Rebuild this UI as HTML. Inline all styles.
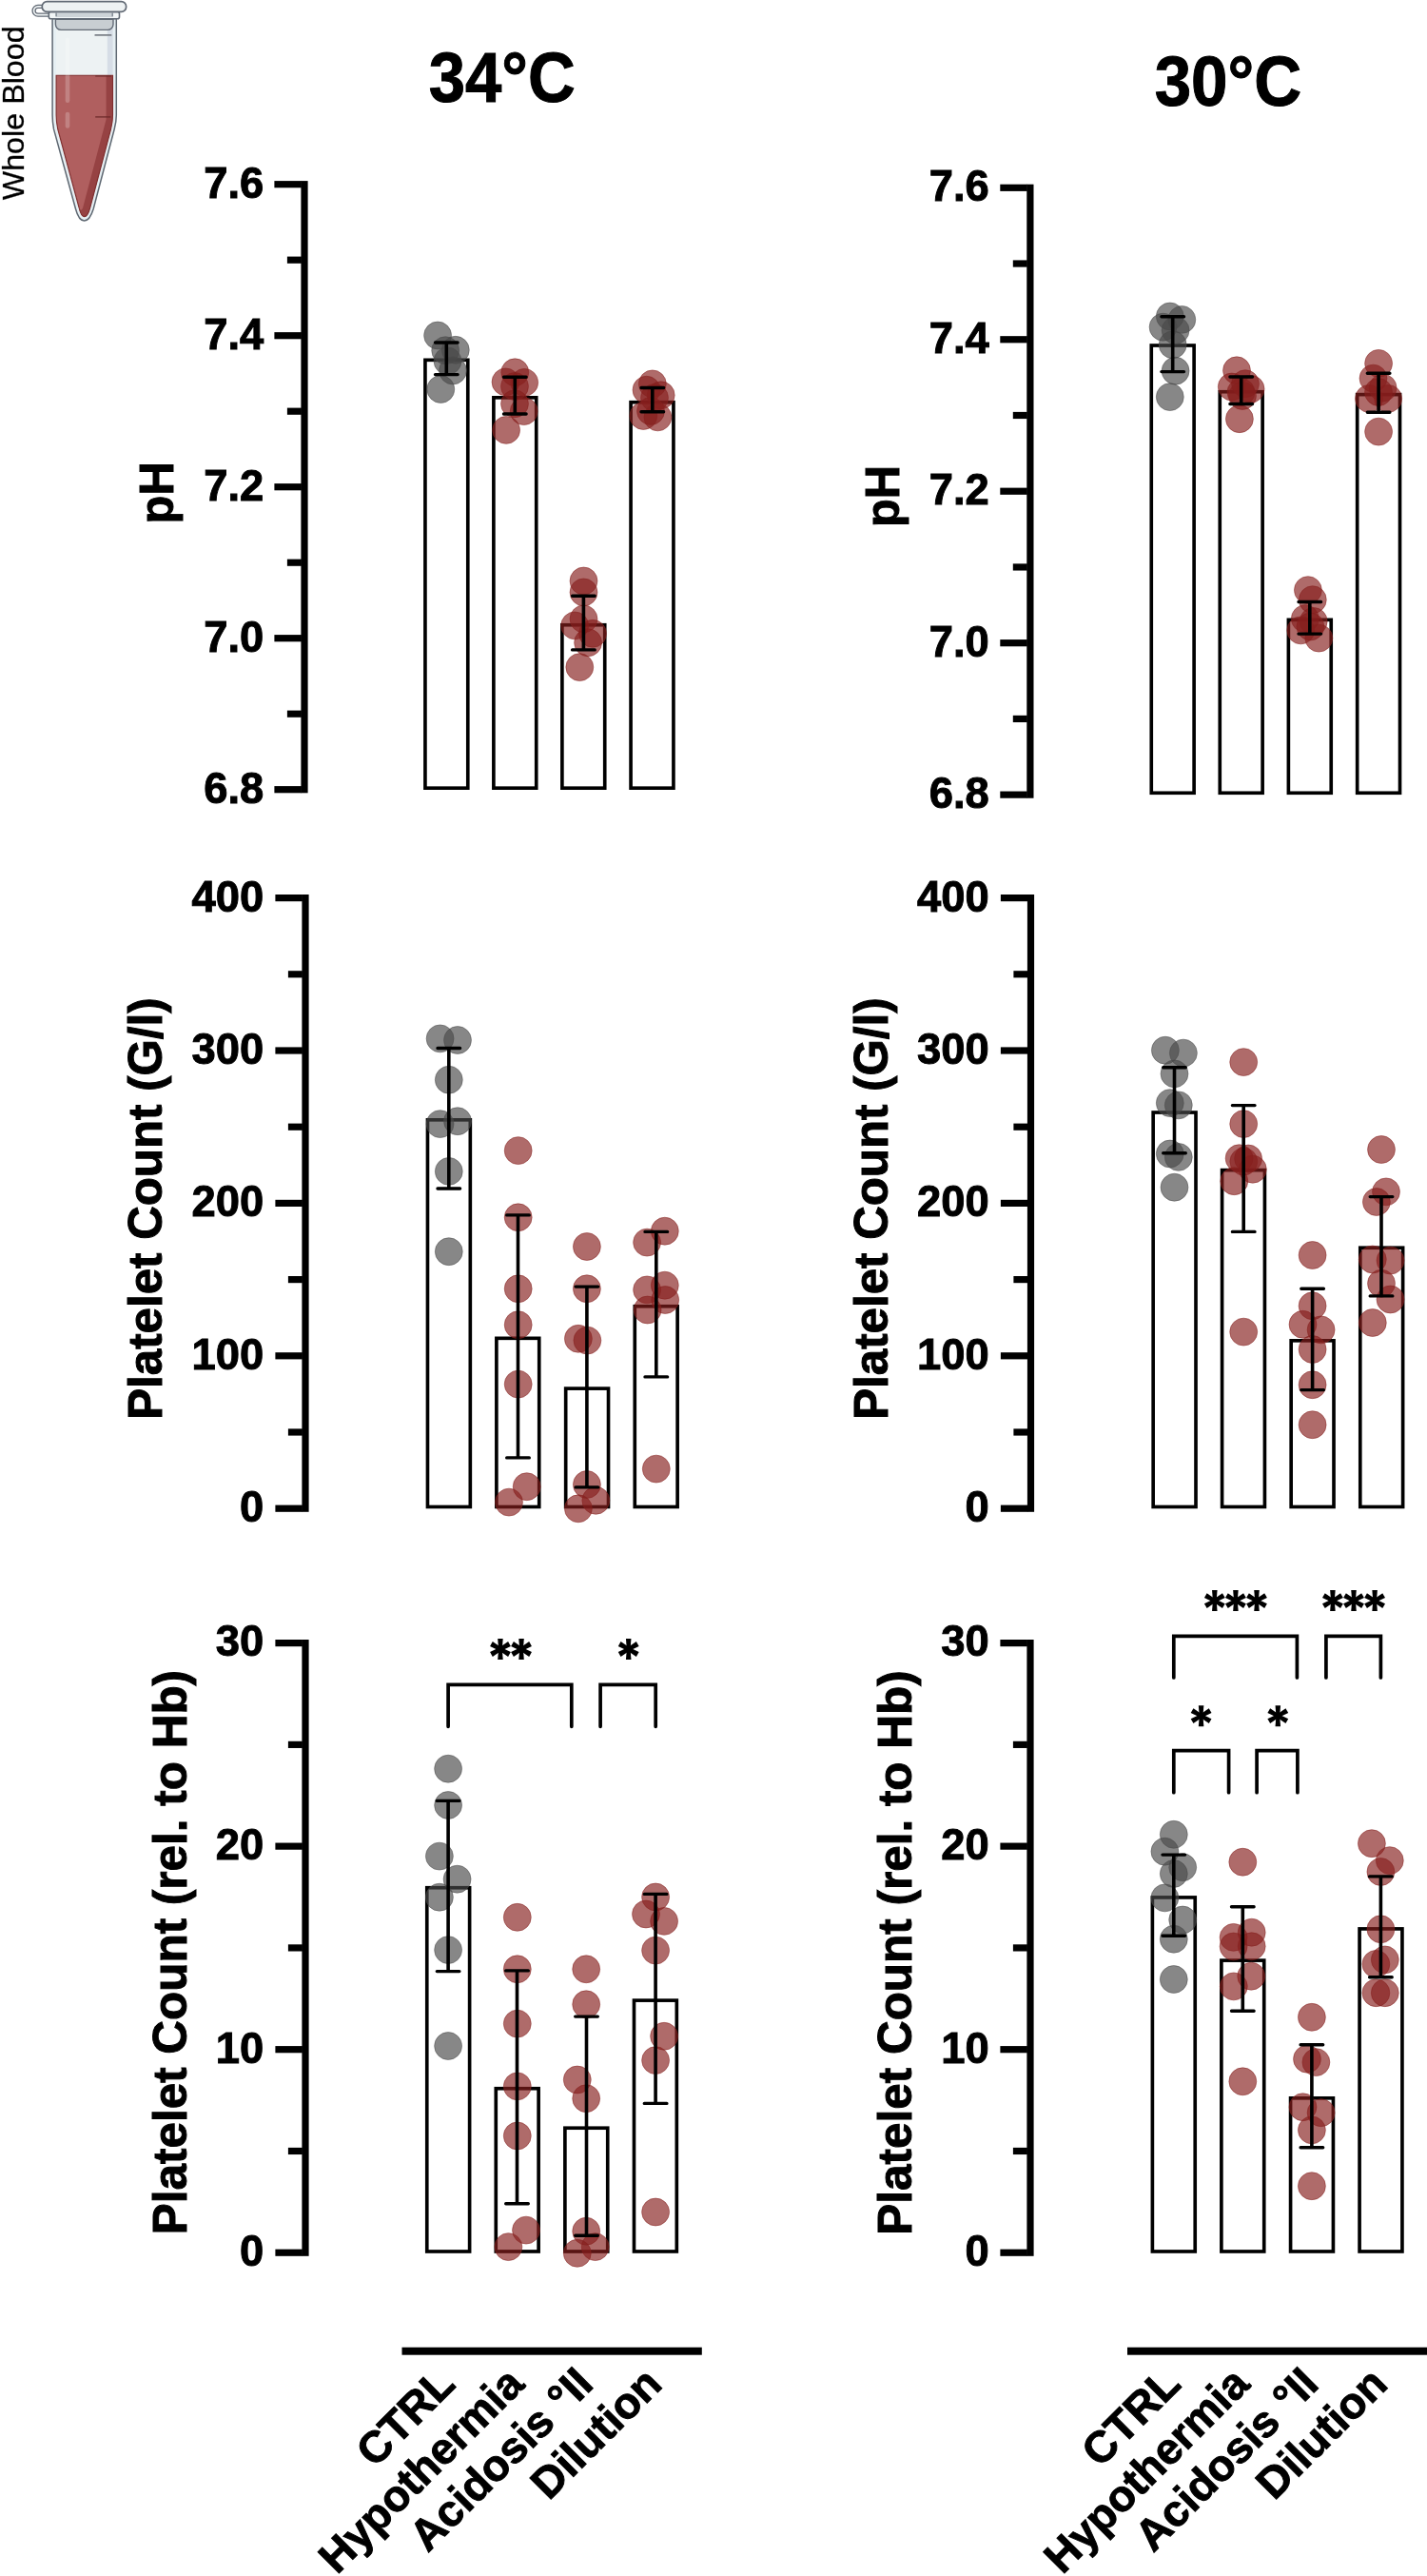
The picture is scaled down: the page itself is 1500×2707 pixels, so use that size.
<!DOCTYPE html>
<html><head><meta charset="utf-8"><title>Figure</title>
<style>html,body{margin:0;padding:0;background:#fff}svg{display:block}svg,text{font-family:"Liberation Sans",sans-serif}text{filter:grayscale(1)}</style></head>
<body>
<svg width="1500" height="2707" viewBox="0 0 1500 2707" fill="#000">
<rect width="1500" height="2707" fill="#fff"/>
<defs><g id="ast"><path transform="rotate(0)" d="M-1.9,0L-2.75,-11H2.75L1.9,0Z"/><path transform="rotate(60)" d="M-1.9,0L-2.75,-11H2.75L1.9,0Z"/><path transform="rotate(120)" d="M-1.9,0L-2.75,-11H2.75L1.9,0Z"/><path transform="rotate(180)" d="M-1.9,0L-2.75,-11H2.75L1.9,0Z"/><path transform="rotate(240)" d="M-1.9,0L-2.75,-11H2.75L1.9,0Z"/><path transform="rotate(300)" d="M-1.9,0L-2.75,-11H2.75L1.9,0Z"/><circle r="2.4"/></g></defs>
<g id="tube">
<text transform="translate(25.2,118.8) rotate(-90)" text-anchor="middle" font-size="32" font-weight="400" textLength="183" lengthAdjust="spacingAndGlyphs" fill="#000" stroke="#000" stroke-width="0.3">Whole Blood</text>
<!-- hinge -->
<path d="M52,6.9H39.9a4.35,4.35 0 0 0 0,8.7H52" fill="none" stroke="#626a75" stroke-width="4.3"/>
<path d="M52,6.9H39.9a4.35,4.35 0 0 0 0,8.7H52" fill="none" stroke="#f1f5f6" stroke-width="1.7"/>
<!-- body outer -->
<path d="M55.1,19.6V121C55.1,127 55.7,131.5 56.5,135.7L79.5,219.5C82,229 85.2,232 88.6,232C92,232 95.3,229 98.2,219.5L120.2,135.7C121.3,131.5 122.3,127 122.3,121V19.6Z" fill="#e6eff3" stroke="#5f6872" stroke-width="1.5"/>
<!-- inner air -->
<path d="M58.9,21V121C58.9,126.5 59.6,131 60.6,135.5L83,218C84.6,225 86.4,227.8 88.6,227.8C90.8,227.8 93,225 94.8,218L116.7,135.5C117.7,131 118.7,126.5 118.7,121V21Z" fill="#edf2f3"/>
<path d="M112.8,21H118.7V79H112.8Z" fill="#d6dde6"/>
<!-- liquid -->
<path d="M59.1,79.2H118.5V121C118.5,126.5 117.6,131 116.6,135.5L94.8,218C93,225 90.8,227.6 88.6,227.6C86.4,227.6 84.6,225 83,218L60.7,135.5C59.8,131 59.1,126.5 59.1,121Z" fill="#b05f5f"/>
<!-- liquid dark right side -->
<path d="M111.6,79.2H118.5V121C118.5,126.5 117.6,131 116.6,135.5L94.8,218C93,225 90.8,227.6 88.6,227.6C86.4,227.6 84.6,225 83.4,219.5C84.5,221.5 86.2,221.2 87.2,218L111.6,125.6Z" fill="#964243"/>
<path d="M59.1,79.2H118.5V121C118.5,126.5 117.6,131 116.6,135.5L94.8,218C93,225 90.8,227.6 88.6,227.6C86.4,227.6 84.6,225 83,218L60.7,135.5C59.8,131 59.1,126.5 59.1,121Z" fill="none" stroke="#7f2e2e" stroke-width="1.1"/>
<!-- highlights -->
<rect x="68.7" y="39.5" width="4.6" height="68.5" rx="2.3" fill="#fff" fill-opacity="0.22"/>
<rect x="68.7" y="117.8" width="4.6" height="17" rx="2.3" fill="#fff" fill-opacity="0.22"/>
<!-- graduation marks -->
<path d="M100.2,36.9H116.6" stroke="#7b8087" stroke-width="1.7" stroke-linecap="round"/>
<path d="M100.2,79.9H117" stroke="#6e2a2a" stroke-width="1.3"/>
<path d="M100.2,122.9H116.4" stroke="#6e2a2a" stroke-width="1.3"/>
<!-- plug -->
<path d="M58.4,20.4H119V25.6a5.8,5.8 0 0 1 -5.8,5.8H64.2a5.8,5.8 0 0 1 -5.8,-5.8Z" fill="#c8ced2" stroke="#626a75" stroke-width="1.4"/>
<!-- collar -->
<rect x="51.3" y="12.4" width="74.2" height="7.4" rx="2" fill="#f1f5f6" stroke="#626a75" stroke-width="1.6"/>
<rect x="58.6" y="13.4" width="60.2" height="4.6" fill="#cdd3d7"/>
<path d="M59.1,13.6V17.2M118.2,13.6V17.2" stroke="#7d8690" stroke-width="1.4"/>
<!-- lid -->
<rect x="44.3" y="1.6" width="88.3" height="10.8" rx="5" fill="#eef2f3" stroke="#626a75" stroke-width="1.7"/>
</g>

<text x="527.7" y="107.0" text-anchor="middle" font-size="73.3" font-weight="700" stroke="#000" stroke-width="1" textLength="154" lengthAdjust="spacingAndGlyphs">34°C</text>
<text x="1290.9" y="110.9" text-anchor="middle" font-size="73.3" font-weight="700" stroke="#000" stroke-width="1" textLength="154.5" lengthAdjust="spacingAndGlyphs">30°C</text>
<g>
<rect x="316.40" y="190.10" width="7.2" height="643.20" fill="#000"/>
<rect x="288.40" y="190.10" width="28.5" height="7.2" fill="#000"/>
<text transform="translate(277.2,207.5) scale(0.965,1)" text-anchor="end" font-size="47" font-weight="700" stroke="#000" stroke-width="1">7.6</text>
<rect x="288.40" y="349.10" width="28.5" height="7.2" fill="#000"/>
<text transform="translate(277.2,366.6) scale(0.965,1)" text-anchor="end" font-size="47" font-weight="700" stroke="#000" stroke-width="1">7.4</text>
<rect x="288.40" y="508.10" width="28.5" height="7.2" fill="#000"/>
<text transform="translate(277.2,525.5) scale(0.965,1)" text-anchor="end" font-size="47" font-weight="700" stroke="#000" stroke-width="1">7.2</text>
<rect x="288.40" y="667.10" width="28.5" height="7.2" fill="#000"/>
<text transform="translate(277.2,684.6) scale(0.965,1)" text-anchor="end" font-size="47" font-weight="700" stroke="#000" stroke-width="1">7.0</text>
<rect x="288.40" y="826.10" width="28.5" height="7.2" fill="#000"/>
<text transform="translate(277.2,843.6) scale(0.965,1)" text-anchor="end" font-size="47" font-weight="700" stroke="#000" stroke-width="1">6.8</text>
<rect x="301.90" y="269.60" width="15" height="7.2" fill="#000"/>
<rect x="301.90" y="428.60" width="15" height="7.2" fill="#000"/>
<rect x="301.90" y="587.60" width="15" height="7.2" fill="#000"/>
<rect x="301.90" y="746.60" width="15" height="7.2" fill="#000"/>
<text transform="translate(182.4,517.8) rotate(-90)" text-anchor="middle" font-size="50.8" font-weight="700" stroke="#000" stroke-width="1" textLength="65.2" lengthAdjust="spacingAndGlyphs">pH</text>
<rect x="446.93" y="378.32" width="44.85" height="449.85" fill="none" stroke="#000" stroke-width="3.65"/>
<rect x="518.88" y="417.82" width="44.85" height="410.35" fill="none" stroke="#000" stroke-width="3.65"/>
<rect x="590.88" y="656.73" width="44.85" height="171.45" fill="none" stroke="#000" stroke-width="3.65"/>
<rect x="663.08" y="422.72" width="44.85" height="405.45" fill="none" stroke="#000" stroke-width="3.65"/>
<circle cx="460.1" cy="352.5" r="14.45" fill="#494949" fill-opacity="0.66" stroke="#494949" stroke-opacity="0.5" stroke-width="1"/>
<circle cx="468.2" cy="368.2" r="14.45" fill="#494949" fill-opacity="0.66" stroke="#494949" stroke-opacity="0.5" stroke-width="1"/>
<circle cx="478.8" cy="367.8" r="14.45" fill="#494949" fill-opacity="0.66" stroke="#494949" stroke-opacity="0.5" stroke-width="1"/>
<circle cx="470.5" cy="379.4" r="14.45" fill="#494949" fill-opacity="0.66" stroke="#494949" stroke-opacity="0.5" stroke-width="1"/>
<circle cx="476.0" cy="389.5" r="14.45" fill="#494949" fill-opacity="0.66" stroke="#494949" stroke-opacity="0.5" stroke-width="1"/>
<circle cx="463.3" cy="409.0" r="14.45" fill="#494949" fill-opacity="0.66" stroke="#494949" stroke-opacity="0.5" stroke-width="1"/>
<circle cx="541.3" cy="391.3" r="14.45" fill="#861f1d" fill-opacity="0.66" stroke="#861f1d" stroke-opacity="0.5" stroke-width="1"/>
<circle cx="531.5" cy="401.4" r="14.45" fill="#861f1d" fill-opacity="0.66" stroke="#861f1d" stroke-opacity="0.5" stroke-width="1"/>
<circle cx="551.2" cy="401.9" r="14.45" fill="#861f1d" fill-opacity="0.66" stroke="#861f1d" stroke-opacity="0.5" stroke-width="1"/>
<circle cx="541.0" cy="406.0" r="14.45" fill="#861f1d" fill-opacity="0.66" stroke="#861f1d" stroke-opacity="0.5" stroke-width="1"/>
<circle cx="541.0" cy="424.3" r="14.45" fill="#861f1d" fill-opacity="0.66" stroke="#861f1d" stroke-opacity="0.5" stroke-width="1"/>
<circle cx="550.7" cy="432.1" r="14.45" fill="#861f1d" fill-opacity="0.66" stroke="#861f1d" stroke-opacity="0.5" stroke-width="1"/>
<circle cx="532.1" cy="451.9" r="14.45" fill="#861f1d" fill-opacity="0.66" stroke="#861f1d" stroke-opacity="0.5" stroke-width="1"/>
<circle cx="613.5" cy="610.5" r="14.45" fill="#861f1d" fill-opacity="0.66" stroke="#861f1d" stroke-opacity="0.5" stroke-width="1"/>
<circle cx="613.5" cy="622.4" r="14.45" fill="#861f1d" fill-opacity="0.66" stroke="#861f1d" stroke-opacity="0.5" stroke-width="1"/>
<circle cx="613.5" cy="650.4" r="14.45" fill="#861f1d" fill-opacity="0.66" stroke="#861f1d" stroke-opacity="0.5" stroke-width="1"/>
<circle cx="604.2" cy="657.4" r="14.45" fill="#861f1d" fill-opacity="0.66" stroke="#861f1d" stroke-opacity="0.5" stroke-width="1"/>
<circle cx="623.0" cy="665.8" r="14.45" fill="#861f1d" fill-opacity="0.66" stroke="#861f1d" stroke-opacity="0.5" stroke-width="1"/>
<circle cx="618.1" cy="675.3" r="14.45" fill="#861f1d" fill-opacity="0.66" stroke="#861f1d" stroke-opacity="0.5" stroke-width="1"/>
<circle cx="609.3" cy="701.1" r="14.45" fill="#861f1d" fill-opacity="0.66" stroke="#861f1d" stroke-opacity="0.5" stroke-width="1"/>
<circle cx="685.8" cy="403.4" r="14.45" fill="#861f1d" fill-opacity="0.66" stroke="#861f1d" stroke-opacity="0.5" stroke-width="1"/>
<circle cx="679.5" cy="409.7" r="14.45" fill="#861f1d" fill-opacity="0.66" stroke="#861f1d" stroke-opacity="0.5" stroke-width="1"/>
<circle cx="694.7" cy="415.3" r="14.45" fill="#861f1d" fill-opacity="0.66" stroke="#861f1d" stroke-opacity="0.5" stroke-width="1"/>
<circle cx="688.0" cy="418.0" r="14.45" fill="#861f1d" fill-opacity="0.66" stroke="#861f1d" stroke-opacity="0.5" stroke-width="1"/>
<circle cx="676.3" cy="437.0" r="14.45" fill="#861f1d" fill-opacity="0.66" stroke="#861f1d" stroke-opacity="0.5" stroke-width="1"/>
<circle cx="691.4" cy="438.4" r="14.45" fill="#861f1d" fill-opacity="0.66" stroke="#861f1d" stroke-opacity="0.5" stroke-width="1"/>
<circle cx="684.0" cy="432.0" r="14.45" fill="#861f1d" fill-opacity="0.66" stroke="#861f1d" stroke-opacity="0.5" stroke-width="1"/>
<path d="M469.3,360.0V393.6" stroke="#000" stroke-width="3.6" fill="none"/>
<path d="M457.5,360.0H481.1M457.5,393.6H481.1" stroke="#000" stroke-width="3.4" stroke-linecap="round" fill="none"/>
<path d="M541.3,396.3V435.0" stroke="#000" stroke-width="3.6" fill="none"/>
<path d="M529.5,396.3H553.1M529.5,435.0H553.1" stroke="#000" stroke-width="3.4" stroke-linecap="round" fill="none"/>
<path d="M613.4,626.3V682.9" stroke="#000" stroke-width="3.6" fill="none"/>
<path d="M601.6,626.3H625.2M601.6,682.9H625.2" stroke="#000" stroke-width="3.4" stroke-linecap="round" fill="none"/>
<path d="M685.8,407.5V432.8" stroke="#000" stroke-width="3.6" fill="none"/>
<path d="M674.0,407.5H697.6M674.0,432.8H697.6" stroke="#000" stroke-width="3.4" stroke-linecap="round" fill="none"/>
</g>
<g>
<rect x="1079.30" y="193.70" width="7.2" height="645.04" fill="#000"/>
<rect x="1051.30" y="193.70" width="28.5" height="7.2" fill="#000"/>
<text transform="translate(1039.7,211.2) scale(0.965,1)" text-anchor="end" font-size="47" font-weight="700" stroke="#000" stroke-width="1">7.6</text>
<rect x="1051.30" y="353.16" width="28.5" height="7.2" fill="#000"/>
<text transform="translate(1039.7,370.6) scale(0.965,1)" text-anchor="end" font-size="47" font-weight="700" stroke="#000" stroke-width="1">7.4</text>
<rect x="1051.30" y="512.62" width="28.5" height="7.2" fill="#000"/>
<text transform="translate(1039.7,530.1) scale(0.965,1)" text-anchor="end" font-size="47" font-weight="700" stroke="#000" stroke-width="1">7.2</text>
<rect x="1051.30" y="672.08" width="28.5" height="7.2" fill="#000"/>
<text transform="translate(1039.7,689.5) scale(0.965,1)" text-anchor="end" font-size="47" font-weight="700" stroke="#000" stroke-width="1">7.0</text>
<rect x="1051.30" y="831.54" width="28.5" height="7.2" fill="#000"/>
<text transform="translate(1039.7,849.0) scale(0.965,1)" text-anchor="end" font-size="47" font-weight="700" stroke="#000" stroke-width="1">6.8</text>
<rect x="1064.80" y="273.43" width="15" height="7.2" fill="#000"/>
<rect x="1064.80" y="432.89" width="15" height="7.2" fill="#000"/>
<rect x="1064.80" y="592.35" width="15" height="7.2" fill="#000"/>
<rect x="1064.80" y="751.81" width="15" height="7.2" fill="#000"/>
<text transform="translate(945.0,521.5) rotate(-90)" text-anchor="middle" font-size="50.8" font-weight="700" stroke="#000" stroke-width="1" textLength="65.2" lengthAdjust="spacingAndGlyphs">pH</text>
<rect x="1210.28" y="363.02" width="44.85" height="470.25" fill="none" stroke="#000" stroke-width="3.65"/>
<rect x="1282.28" y="411.72" width="44.85" height="421.55" fill="none" stroke="#000" stroke-width="3.65"/>
<rect x="1354.38" y="651.33" width="44.85" height="181.95" fill="none" stroke="#000" stroke-width="3.65"/>
<rect x="1426.67" y="414.62" width="44.85" height="418.65" fill="none" stroke="#000" stroke-width="3.65"/>
<circle cx="1229.8" cy="332.5" r="14.45" fill="#494949" fill-opacity="0.66" stroke="#494949" stroke-opacity="0.5" stroke-width="1"/>
<circle cx="1242.3" cy="335.9" r="14.45" fill="#494949" fill-opacity="0.66" stroke="#494949" stroke-opacity="0.5" stroke-width="1"/>
<circle cx="1222.6" cy="343.7" r="14.45" fill="#494949" fill-opacity="0.66" stroke="#494949" stroke-opacity="0.5" stroke-width="1"/>
<circle cx="1235.6" cy="347.1" r="14.45" fill="#494949" fill-opacity="0.66" stroke="#494949" stroke-opacity="0.5" stroke-width="1"/>
<circle cx="1232.7" cy="362.3" r="14.45" fill="#494949" fill-opacity="0.66" stroke="#494949" stroke-opacity="0.5" stroke-width="1"/>
<circle cx="1235.6" cy="389.7" r="14.45" fill="#494949" fill-opacity="0.66" stroke="#494949" stroke-opacity="0.5" stroke-width="1"/>
<circle cx="1229.8" cy="417.1" r="14.45" fill="#494949" fill-opacity="0.66" stroke="#494949" stroke-opacity="0.5" stroke-width="1"/>
<circle cx="1300.0" cy="389.3" r="14.45" fill="#861f1d" fill-opacity="0.66" stroke="#861f1d" stroke-opacity="0.5" stroke-width="1"/>
<circle cx="1294.8" cy="406.5" r="14.45" fill="#861f1d" fill-opacity="0.66" stroke="#861f1d" stroke-opacity="0.5" stroke-width="1"/>
<circle cx="1309.0" cy="403.2" r="14.45" fill="#861f1d" fill-opacity="0.66" stroke="#861f1d" stroke-opacity="0.5" stroke-width="1"/>
<circle cx="1314.6" cy="408.8" r="14.45" fill="#861f1d" fill-opacity="0.66" stroke="#861f1d" stroke-opacity="0.5" stroke-width="1"/>
<circle cx="1304.5" cy="412.1" r="14.45" fill="#861f1d" fill-opacity="0.66" stroke="#861f1d" stroke-opacity="0.5" stroke-width="1"/>
<circle cx="1306.0" cy="416.0" r="14.45" fill="#861f1d" fill-opacity="0.66" stroke="#861f1d" stroke-opacity="0.5" stroke-width="1"/>
<circle cx="1302.9" cy="440.2" r="14.45" fill="#861f1d" fill-opacity="0.66" stroke="#861f1d" stroke-opacity="0.5" stroke-width="1"/>
<circle cx="1374.9" cy="620.1" r="14.45" fill="#861f1d" fill-opacity="0.66" stroke="#861f1d" stroke-opacity="0.5" stroke-width="1"/>
<circle cx="1379.8" cy="630.2" r="14.45" fill="#861f1d" fill-opacity="0.66" stroke="#861f1d" stroke-opacity="0.5" stroke-width="1"/>
<circle cx="1371.8" cy="650.1" r="14.45" fill="#861f1d" fill-opacity="0.66" stroke="#861f1d" stroke-opacity="0.5" stroke-width="1"/>
<circle cx="1380.7" cy="652.9" r="14.45" fill="#861f1d" fill-opacity="0.66" stroke="#861f1d" stroke-opacity="0.5" stroke-width="1"/>
<circle cx="1377.4" cy="658.5" r="14.45" fill="#861f1d" fill-opacity="0.66" stroke="#861f1d" stroke-opacity="0.5" stroke-width="1"/>
<circle cx="1367.3" cy="662.4" r="14.45" fill="#861f1d" fill-opacity="0.66" stroke="#861f1d" stroke-opacity="0.5" stroke-width="1"/>
<circle cx="1386.3" cy="670.6" r="14.45" fill="#861f1d" fill-opacity="0.66" stroke="#861f1d" stroke-opacity="0.5" stroke-width="1"/>
<circle cx="1449.1" cy="381.9" r="14.45" fill="#861f1d" fill-opacity="0.66" stroke="#861f1d" stroke-opacity="0.5" stroke-width="1"/>
<circle cx="1443.5" cy="397.6" r="14.45" fill="#861f1d" fill-opacity="0.66" stroke="#861f1d" stroke-opacity="0.5" stroke-width="1"/>
<circle cx="1453.6" cy="407.6" r="14.45" fill="#861f1d" fill-opacity="0.66" stroke="#861f1d" stroke-opacity="0.5" stroke-width="1"/>
<circle cx="1439.0" cy="418.9" r="14.45" fill="#861f1d" fill-opacity="0.66" stroke="#861f1d" stroke-opacity="0.5" stroke-width="1"/>
<circle cx="1459.2" cy="418.9" r="14.45" fill="#861f1d" fill-opacity="0.66" stroke="#861f1d" stroke-opacity="0.5" stroke-width="1"/>
<circle cx="1449.0" cy="412.0" r="14.45" fill="#861f1d" fill-opacity="0.66" stroke="#861f1d" stroke-opacity="0.5" stroke-width="1"/>
<circle cx="1449.1" cy="453.6" r="14.45" fill="#861f1d" fill-opacity="0.66" stroke="#861f1d" stroke-opacity="0.5" stroke-width="1"/>
<path d="M1232.7,332.7V390.6" stroke="#000" stroke-width="3.6" fill="none"/>
<path d="M1220.9,332.7H1244.5M1220.9,390.6H1244.5" stroke="#000" stroke-width="3.4" stroke-linecap="round" fill="none"/>
<path d="M1304.7,396.0V424.5" stroke="#000" stroke-width="3.6" fill="none"/>
<path d="M1292.9,396.0H1316.5M1292.9,424.5H1316.5" stroke="#000" stroke-width="3.4" stroke-linecap="round" fill="none"/>
<path d="M1376.8,632.5V666.1" stroke="#000" stroke-width="3.6" fill="none"/>
<path d="M1365.0,632.5H1388.6M1365.0,666.1H1388.6" stroke="#000" stroke-width="3.4" stroke-linecap="round" fill="none"/>
<path d="M1449.1,392.2V433.2" stroke="#000" stroke-width="3.6" fill="none"/>
<path d="M1437.3,392.2H1460.9M1437.3,433.2H1460.9" stroke="#000" stroke-width="3.4" stroke-linecap="round" fill="none"/>
</g>
<g>
<rect x="317.40" y="940.00" width="7.2" height="648.80" fill="#000"/>
<rect x="289.40" y="940.00" width="28.5" height="7.2" fill="#000"/>
<text transform="translate(277.2,957.5) scale(0.965,1)" text-anchor="end" font-size="47" font-weight="700" stroke="#000" stroke-width="1">400</text>
<rect x="289.40" y="1100.40" width="28.5" height="7.2" fill="#000"/>
<text transform="translate(277.2,1117.8) scale(0.965,1)" text-anchor="end" font-size="47" font-weight="700" stroke="#000" stroke-width="1">300</text>
<rect x="289.40" y="1260.80" width="28.5" height="7.2" fill="#000"/>
<text transform="translate(277.2,1278.2) scale(0.965,1)" text-anchor="end" font-size="47" font-weight="700" stroke="#000" stroke-width="1">200</text>
<rect x="289.40" y="1421.20" width="28.5" height="7.2" fill="#000"/>
<text transform="translate(277.2,1438.7) scale(0.965,1)" text-anchor="end" font-size="47" font-weight="700" stroke="#000" stroke-width="1">100</text>
<rect x="289.40" y="1581.60" width="28.5" height="7.2" fill="#000"/>
<text transform="translate(277.2,1599.0) scale(0.965,1)" text-anchor="end" font-size="47" font-weight="700" stroke="#000" stroke-width="1">0</text>
<rect x="302.90" y="1020.20" width="15" height="7.2" fill="#000"/>
<rect x="302.90" y="1180.60" width="15" height="7.2" fill="#000"/>
<rect x="302.90" y="1341.00" width="15" height="7.2" fill="#000"/>
<rect x="302.90" y="1501.40" width="15" height="7.2" fill="#000"/>
<text transform="translate(170.4,1270.1) rotate(-90)" text-anchor="middle" font-size="50.8" font-weight="700" stroke="#000" stroke-width="1" textLength="443.3" lengthAdjust="spacingAndGlyphs">Platelet Count (G/l)</text>
<rect x="449.47" y="1176.83" width="44.85" height="406.65" fill="none" stroke="#000" stroke-width="3.65"/>
<rect x="521.88" y="1406.33" width="44.85" height="177.15" fill="none" stroke="#000" stroke-width="3.65"/>
<rect x="594.68" y="1459.12" width="44.85" height="124.35" fill="none" stroke="#000" stroke-width="3.65"/>
<rect x="667.28" y="1372.73" width="44.85" height="210.75" fill="none" stroke="#000" stroke-width="3.65"/>
<circle cx="462.6" cy="1091.4" r="14.45" fill="#494949" fill-opacity="0.66" stroke="#494949" stroke-opacity="0.5" stroke-width="1"/>
<circle cx="481.0" cy="1093.0" r="14.45" fill="#494949" fill-opacity="0.66" stroke="#494949" stroke-opacity="0.5" stroke-width="1"/>
<circle cx="471.8" cy="1134.7" r="14.45" fill="#494949" fill-opacity="0.66" stroke="#494949" stroke-opacity="0.5" stroke-width="1"/>
<circle cx="462.6" cy="1181.1" r="14.45" fill="#494949" fill-opacity="0.66" stroke="#494949" stroke-opacity="0.5" stroke-width="1"/>
<circle cx="481.0" cy="1178.2" r="14.45" fill="#494949" fill-opacity="0.66" stroke="#494949" stroke-opacity="0.5" stroke-width="1"/>
<circle cx="471.8" cy="1230.9" r="14.45" fill="#494949" fill-opacity="0.66" stroke="#494949" stroke-opacity="0.5" stroke-width="1"/>
<circle cx="471.8" cy="1315.2" r="14.45" fill="#494949" fill-opacity="0.66" stroke="#494949" stroke-opacity="0.5" stroke-width="1"/>
<circle cx="544.7" cy="1209.1" r="14.45" fill="#861f1d" fill-opacity="0.66" stroke="#861f1d" stroke-opacity="0.5" stroke-width="1"/>
<circle cx="544.7" cy="1279.3" r="14.45" fill="#861f1d" fill-opacity="0.66" stroke="#861f1d" stroke-opacity="0.5" stroke-width="1"/>
<circle cx="544.7" cy="1354.3" r="14.45" fill="#861f1d" fill-opacity="0.66" stroke="#861f1d" stroke-opacity="0.5" stroke-width="1"/>
<circle cx="544.7" cy="1392.2" r="14.45" fill="#861f1d" fill-opacity="0.66" stroke="#861f1d" stroke-opacity="0.5" stroke-width="1"/>
<circle cx="544.7" cy="1454.6" r="14.45" fill="#861f1d" fill-opacity="0.66" stroke="#861f1d" stroke-opacity="0.5" stroke-width="1"/>
<circle cx="553.7" cy="1562.2" r="14.45" fill="#861f1d" fill-opacity="0.66" stroke="#861f1d" stroke-opacity="0.5" stroke-width="1"/>
<circle cx="535.0" cy="1578.6" r="14.45" fill="#861f1d" fill-opacity="0.66" stroke="#861f1d" stroke-opacity="0.5" stroke-width="1"/>
<circle cx="616.9" cy="1310.0" r="14.45" fill="#861f1d" fill-opacity="0.66" stroke="#861f1d" stroke-opacity="0.5" stroke-width="1"/>
<circle cx="616.9" cy="1354.3" r="14.45" fill="#861f1d" fill-opacity="0.66" stroke="#861f1d" stroke-opacity="0.5" stroke-width="1"/>
<circle cx="607.9" cy="1406.8" r="14.45" fill="#861f1d" fill-opacity="0.66" stroke="#861f1d" stroke-opacity="0.5" stroke-width="1"/>
<circle cx="617.4" cy="1408.6" r="14.45" fill="#861f1d" fill-opacity="0.66" stroke="#861f1d" stroke-opacity="0.5" stroke-width="1"/>
<circle cx="616.9" cy="1560.0" r="14.45" fill="#861f1d" fill-opacity="0.66" stroke="#861f1d" stroke-opacity="0.5" stroke-width="1"/>
<circle cx="626.3" cy="1576.8" r="14.45" fill="#861f1d" fill-opacity="0.66" stroke="#861f1d" stroke-opacity="0.5" stroke-width="1"/>
<circle cx="607.9" cy="1585.3" r="14.45" fill="#861f1d" fill-opacity="0.66" stroke="#861f1d" stroke-opacity="0.5" stroke-width="1"/>
<circle cx="698.8" cy="1293.7" r="14.45" fill="#861f1d" fill-opacity="0.66" stroke="#861f1d" stroke-opacity="0.5" stroke-width="1"/>
<circle cx="680.1" cy="1305.6" r="14.45" fill="#861f1d" fill-opacity="0.66" stroke="#861f1d" stroke-opacity="0.5" stroke-width="1"/>
<circle cx="698.8" cy="1350.7" r="14.45" fill="#861f1d" fill-opacity="0.66" stroke="#861f1d" stroke-opacity="0.5" stroke-width="1"/>
<circle cx="680.1" cy="1355.4" r="14.45" fill="#861f1d" fill-opacity="0.66" stroke="#861f1d" stroke-opacity="0.5" stroke-width="1"/>
<circle cx="699.2" cy="1366.0" r="14.45" fill="#861f1d" fill-opacity="0.66" stroke="#861f1d" stroke-opacity="0.5" stroke-width="1"/>
<circle cx="680.6" cy="1376.5" r="14.45" fill="#861f1d" fill-opacity="0.66" stroke="#861f1d" stroke-opacity="0.5" stroke-width="1"/>
<circle cx="689.8" cy="1543.6" r="14.45" fill="#861f1d" fill-opacity="0.66" stroke="#861f1d" stroke-opacity="0.5" stroke-width="1"/>
<path d="M471.8,1101.5V1249.0" stroke="#000" stroke-width="3.6" fill="none"/>
<path d="M460.0,1101.5H483.6M460.0,1249.0H483.6" stroke="#000" stroke-width="3.4" stroke-linecap="round" fill="none"/>
<path d="M544.5,1276.9V1531.9" stroke="#000" stroke-width="3.6" fill="none"/>
<path d="M532.7,1276.9H556.3M532.7,1531.9H556.3" stroke="#000" stroke-width="3.4" stroke-linecap="round" fill="none"/>
<path d="M616.9,1352.1V1562.9" stroke="#000" stroke-width="3.6" fill="none"/>
<path d="M605.1,1352.1H628.7M605.1,1562.9H628.7" stroke="#000" stroke-width="3.4" stroke-linecap="round" fill="none"/>
<path d="M689.8,1294.4V1446.9" stroke="#000" stroke-width="3.6" fill="none"/>
<path d="M678.0,1294.4H701.6M678.0,1446.9H701.6" stroke="#000" stroke-width="3.4" stroke-linecap="round" fill="none"/>
</g>
<g>
<rect x="1079.90" y="940.00" width="7.2" height="648.80" fill="#000"/>
<rect x="1051.90" y="940.00" width="28.5" height="7.2" fill="#000"/>
<text transform="translate(1039.7,957.5) scale(0.965,1)" text-anchor="end" font-size="47" font-weight="700" stroke="#000" stroke-width="1">400</text>
<rect x="1051.90" y="1100.40" width="28.5" height="7.2" fill="#000"/>
<text transform="translate(1039.7,1117.8) scale(0.965,1)" text-anchor="end" font-size="47" font-weight="700" stroke="#000" stroke-width="1">300</text>
<rect x="1051.90" y="1260.80" width="28.5" height="7.2" fill="#000"/>
<text transform="translate(1039.7,1278.2) scale(0.965,1)" text-anchor="end" font-size="47" font-weight="700" stroke="#000" stroke-width="1">200</text>
<rect x="1051.90" y="1421.20" width="28.5" height="7.2" fill="#000"/>
<text transform="translate(1039.7,1438.7) scale(0.965,1)" text-anchor="end" font-size="47" font-weight="700" stroke="#000" stroke-width="1">100</text>
<rect x="1051.90" y="1581.60" width="28.5" height="7.2" fill="#000"/>
<text transform="translate(1039.7,1599.0) scale(0.965,1)" text-anchor="end" font-size="47" font-weight="700" stroke="#000" stroke-width="1">0</text>
<rect x="1065.40" y="1020.20" width="15" height="7.2" fill="#000"/>
<rect x="1065.40" y="1180.60" width="15" height="7.2" fill="#000"/>
<rect x="1065.40" y="1341.00" width="15" height="7.2" fill="#000"/>
<rect x="1065.40" y="1501.40" width="15" height="7.2" fill="#000"/>
<text transform="translate(933.2,1270.1) rotate(-90)" text-anchor="middle" font-size="50.8" font-weight="700" stroke="#000" stroke-width="1" textLength="443.3" lengthAdjust="spacingAndGlyphs">Platelet Count (G/l)</text>
<rect x="1212.17" y="1169.03" width="44.85" height="414.45" fill="none" stroke="#000" stroke-width="3.65"/>
<rect x="1284.58" y="1229.62" width="44.85" height="353.85" fill="none" stroke="#000" stroke-width="3.65"/>
<rect x="1357.17" y="1408.83" width="44.85" height="174.65" fill="none" stroke="#000" stroke-width="3.65"/>
<rect x="1429.78" y="1311.23" width="44.85" height="272.25" fill="none" stroke="#000" stroke-width="3.65"/>
<circle cx="1224.9" cy="1103.7" r="14.45" fill="#494949" fill-opacity="0.66" stroke="#494949" stroke-opacity="0.5" stroke-width="1"/>
<circle cx="1243.9" cy="1106.6" r="14.45" fill="#494949" fill-opacity="0.66" stroke="#494949" stroke-opacity="0.5" stroke-width="1"/>
<circle cx="1234.5" cy="1128.4" r="14.45" fill="#494949" fill-opacity="0.66" stroke="#494949" stroke-opacity="0.5" stroke-width="1"/>
<circle cx="1229.8" cy="1159.1" r="14.45" fill="#494949" fill-opacity="0.66" stroke="#494949" stroke-opacity="0.5" stroke-width="1"/>
<circle cx="1238.8" cy="1161.4" r="14.45" fill="#494949" fill-opacity="0.66" stroke="#494949" stroke-opacity="0.5" stroke-width="1"/>
<circle cx="1229.8" cy="1212.5" r="14.45" fill="#494949" fill-opacity="0.66" stroke="#494949" stroke-opacity="0.5" stroke-width="1"/>
<circle cx="1238.8" cy="1215.9" r="14.45" fill="#494949" fill-opacity="0.66" stroke="#494949" stroke-opacity="0.5" stroke-width="1"/>
<circle cx="1234.5" cy="1247.7" r="14.45" fill="#494949" fill-opacity="0.66" stroke="#494949" stroke-opacity="0.5" stroke-width="1"/>
<circle cx="1307.2" cy="1116.1" r="14.45" fill="#861f1d" fill-opacity="0.66" stroke="#861f1d" stroke-opacity="0.5" stroke-width="1"/>
<circle cx="1307.2" cy="1181.1" r="14.45" fill="#861f1d" fill-opacity="0.66" stroke="#861f1d" stroke-opacity="0.5" stroke-width="1"/>
<circle cx="1302.6" cy="1217.2" r="14.45" fill="#861f1d" fill-opacity="0.66" stroke="#861f1d" stroke-opacity="0.5" stroke-width="1"/>
<circle cx="1312.1" cy="1217.5" r="14.45" fill="#861f1d" fill-opacity="0.66" stroke="#861f1d" stroke-opacity="0.5" stroke-width="1"/>
<circle cx="1307.3" cy="1220.6" r="14.45" fill="#861f1d" fill-opacity="0.66" stroke="#861f1d" stroke-opacity="0.5" stroke-width="1"/>
<circle cx="1316.8" cy="1228.7" r="14.45" fill="#861f1d" fill-opacity="0.66" stroke="#861f1d" stroke-opacity="0.5" stroke-width="1"/>
<circle cx="1297.3" cy="1241.2" r="14.45" fill="#861f1d" fill-opacity="0.66" stroke="#861f1d" stroke-opacity="0.5" stroke-width="1"/>
<circle cx="1307.2" cy="1399.6" r="14.45" fill="#861f1d" fill-opacity="0.66" stroke="#861f1d" stroke-opacity="0.5" stroke-width="1"/>
<circle cx="1379.6" cy="1319.0" r="14.45" fill="#861f1d" fill-opacity="0.66" stroke="#861f1d" stroke-opacity="0.5" stroke-width="1"/>
<circle cx="1379.6" cy="1372.3" r="14.45" fill="#861f1d" fill-opacity="0.66" stroke="#861f1d" stroke-opacity="0.5" stroke-width="1"/>
<circle cx="1369.5" cy="1391.8" r="14.45" fill="#861f1d" fill-opacity="0.66" stroke="#861f1d" stroke-opacity="0.5" stroke-width="1"/>
<circle cx="1388.6" cy="1397.4" r="14.45" fill="#861f1d" fill-opacity="0.66" stroke="#861f1d" stroke-opacity="0.5" stroke-width="1"/>
<circle cx="1379.6" cy="1418.0" r="14.45" fill="#861f1d" fill-opacity="0.66" stroke="#861f1d" stroke-opacity="0.5" stroke-width="1"/>
<circle cx="1379.6" cy="1455.2" r="14.45" fill="#861f1d" fill-opacity="0.66" stroke="#861f1d" stroke-opacity="0.5" stroke-width="1"/>
<circle cx="1379.6" cy="1497.2" r="14.45" fill="#861f1d" fill-opacity="0.66" stroke="#861f1d" stroke-opacity="0.5" stroke-width="1"/>
<circle cx="1452.0" cy="1208.0" r="14.45" fill="#861f1d" fill-opacity="0.66" stroke="#861f1d" stroke-opacity="0.5" stroke-width="1"/>
<circle cx="1457.0" cy="1252.4" r="14.45" fill="#861f1d" fill-opacity="0.66" stroke="#861f1d" stroke-opacity="0.5" stroke-width="1"/>
<circle cx="1446.9" cy="1263.0" r="14.45" fill="#861f1d" fill-opacity="0.66" stroke="#861f1d" stroke-opacity="0.5" stroke-width="1"/>
<circle cx="1442.8" cy="1323.5" r="14.45" fill="#861f1d" fill-opacity="0.66" stroke="#861f1d" stroke-opacity="0.5" stroke-width="1"/>
<circle cx="1461.5" cy="1324.6" r="14.45" fill="#861f1d" fill-opacity="0.66" stroke="#861f1d" stroke-opacity="0.5" stroke-width="1"/>
<circle cx="1452.0" cy="1348.7" r="14.45" fill="#861f1d" fill-opacity="0.66" stroke="#861f1d" stroke-opacity="0.5" stroke-width="1"/>
<circle cx="1461.5" cy="1365.5" r="14.45" fill="#861f1d" fill-opacity="0.66" stroke="#861f1d" stroke-opacity="0.5" stroke-width="1"/>
<circle cx="1442.8" cy="1390.0" r="14.45" fill="#861f1d" fill-opacity="0.66" stroke="#861f1d" stroke-opacity="0.5" stroke-width="1"/>
<path d="M1234.5,1121.7V1211.8" stroke="#000" stroke-width="3.6" fill="none"/>
<path d="M1222.7,1121.7H1246.3M1222.7,1211.8H1246.3" stroke="#000" stroke-width="3.4" stroke-linecap="round" fill="none"/>
<path d="M1307.2,1161.6V1294.4" stroke="#000" stroke-width="3.6" fill="none"/>
<path d="M1295.4,1161.6H1319.0M1295.4,1294.4H1319.0" stroke="#000" stroke-width="3.4" stroke-linecap="round" fill="none"/>
<path d="M1379.6,1354.3V1460.6" stroke="#000" stroke-width="3.6" fill="none"/>
<path d="M1367.8,1354.3H1391.4M1367.8,1460.6H1391.4" stroke="#000" stroke-width="3.4" stroke-linecap="round" fill="none"/>
<path d="M1452.0,1257.6V1361.9" stroke="#000" stroke-width="3.6" fill="none"/>
<path d="M1440.2,1257.6H1463.8M1440.2,1361.9H1463.8" stroke="#000" stroke-width="3.4" stroke-linecap="round" fill="none"/>
</g>
<g>
<rect x="317.40" y="1723.00" width="7.2" height="647.82" fill="#000"/>
<rect x="289.40" y="1723.00" width="28.5" height="7.2" fill="#000"/>
<text transform="translate(277.2,1740.4) scale(0.965,1)" text-anchor="end" font-size="47" font-weight="700" stroke="#000" stroke-width="1">30</text>
<rect x="289.40" y="1936.54" width="28.5" height="7.2" fill="#000"/>
<text transform="translate(277.2,1954.0) scale(0.965,1)" text-anchor="end" font-size="47" font-weight="700" stroke="#000" stroke-width="1">20</text>
<rect x="289.40" y="2150.08" width="28.5" height="7.2" fill="#000"/>
<text transform="translate(277.2,2167.5) scale(0.965,1)" text-anchor="end" font-size="47" font-weight="700" stroke="#000" stroke-width="1">10</text>
<rect x="289.40" y="2363.62" width="28.5" height="7.2" fill="#000"/>
<text transform="translate(277.2,2381.1) scale(0.965,1)" text-anchor="end" font-size="47" font-weight="700" stroke="#000" stroke-width="1">0</text>
<rect x="302.90" y="1829.77" width="15" height="7.2" fill="#000"/>
<rect x="302.90" y="2043.31" width="15" height="7.2" fill="#000"/>
<rect x="302.90" y="2256.85" width="15" height="7.2" fill="#000"/>
<text transform="translate(196.4,2051.6) rotate(-90)" text-anchor="middle" font-size="50.8" font-weight="700" stroke="#000" stroke-width="1" textLength="593.3" lengthAdjust="spacingAndGlyphs">Platelet Count (rel. to Hb)</text>
<rect x="448.77" y="1983.73" width="44.85" height="382.25" fill="none" stroke="#000" stroke-width="3.65"/>
<rect x="521.28" y="2194.72" width="44.85" height="171.25" fill="none" stroke="#000" stroke-width="3.65"/>
<rect x="593.88" y="2236.22" width="44.85" height="129.75" fill="none" stroke="#000" stroke-width="3.65"/>
<rect x="666.48" y="2102.12" width="44.85" height="263.85" fill="none" stroke="#000" stroke-width="3.65"/>
<circle cx="471.1" cy="1858.7" r="14.45" fill="#494949" fill-opacity="0.66" stroke="#494949" stroke-opacity="0.5" stroke-width="1"/>
<circle cx="471.1" cy="1897.0" r="14.45" fill="#494949" fill-opacity="0.66" stroke="#494949" stroke-opacity="0.5" stroke-width="1"/>
<circle cx="461.9" cy="1950.6" r="14.45" fill="#494949" fill-opacity="0.66" stroke="#494949" stroke-opacity="0.5" stroke-width="1"/>
<circle cx="480.6" cy="1974.7" r="14.45" fill="#494949" fill-opacity="0.66" stroke="#494949" stroke-opacity="0.5" stroke-width="1"/>
<circle cx="461.9" cy="1993.7" r="14.45" fill="#494949" fill-opacity="0.66" stroke="#494949" stroke-opacity="0.5" stroke-width="1"/>
<circle cx="471.1" cy="2049.1" r="14.45" fill="#494949" fill-opacity="0.66" stroke="#494949" stroke-opacity="0.5" stroke-width="1"/>
<circle cx="471.1" cy="2150.0" r="14.45" fill="#494949" fill-opacity="0.66" stroke="#494949" stroke-opacity="0.5" stroke-width="1"/>
<circle cx="543.8" cy="2014.8" r="14.45" fill="#861f1d" fill-opacity="0.66" stroke="#861f1d" stroke-opacity="0.5" stroke-width="1"/>
<circle cx="543.8" cy="2069.3" r="14.45" fill="#861f1d" fill-opacity="0.66" stroke="#861f1d" stroke-opacity="0.5" stroke-width="1"/>
<circle cx="543.8" cy="2126.6" r="14.45" fill="#861f1d" fill-opacity="0.66" stroke="#861f1d" stroke-opacity="0.5" stroke-width="1"/>
<circle cx="543.8" cy="2192.4" r="14.45" fill="#861f1d" fill-opacity="0.66" stroke="#861f1d" stroke-opacity="0.5" stroke-width="1"/>
<circle cx="543.8" cy="2244.5" r="14.45" fill="#861f1d" fill-opacity="0.66" stroke="#861f1d" stroke-opacity="0.5" stroke-width="1"/>
<circle cx="553.0" cy="2343.6" r="14.45" fill="#861f1d" fill-opacity="0.66" stroke="#861f1d" stroke-opacity="0.5" stroke-width="1"/>
<circle cx="534.4" cy="2361.1" r="14.45" fill="#861f1d" fill-opacity="0.66" stroke="#861f1d" stroke-opacity="0.5" stroke-width="1"/>
<circle cx="616.2" cy="2069.3" r="14.45" fill="#861f1d" fill-opacity="0.66" stroke="#861f1d" stroke-opacity="0.5" stroke-width="1"/>
<circle cx="616.2" cy="2106.3" r="14.45" fill="#861f1d" fill-opacity="0.66" stroke="#861f1d" stroke-opacity="0.5" stroke-width="1"/>
<circle cx="606.8" cy="2185.5" r="14.45" fill="#861f1d" fill-opacity="0.66" stroke="#861f1d" stroke-opacity="0.5" stroke-width="1"/>
<circle cx="616.2" cy="2205.2" r="14.45" fill="#861f1d" fill-opacity="0.66" stroke="#861f1d" stroke-opacity="0.5" stroke-width="1"/>
<circle cx="616.2" cy="2344.7" r="14.45" fill="#861f1d" fill-opacity="0.66" stroke="#861f1d" stroke-opacity="0.5" stroke-width="1"/>
<circle cx="625.7" cy="2361.1" r="14.45" fill="#861f1d" fill-opacity="0.66" stroke="#861f1d" stroke-opacity="0.5" stroke-width="1"/>
<circle cx="606.8" cy="2367.8" r="14.45" fill="#861f1d" fill-opacity="0.66" stroke="#861f1d" stroke-opacity="0.5" stroke-width="1"/>
<circle cx="689.1" cy="1993.5" r="14.45" fill="#861f1d" fill-opacity="0.66" stroke="#861f1d" stroke-opacity="0.5" stroke-width="1"/>
<circle cx="679.0" cy="2011.5" r="14.45" fill="#861f1d" fill-opacity="0.66" stroke="#861f1d" stroke-opacity="0.5" stroke-width="1"/>
<circle cx="698.1" cy="2018.9" r="14.45" fill="#861f1d" fill-opacity="0.66" stroke="#861f1d" stroke-opacity="0.5" stroke-width="1"/>
<circle cx="689.1" cy="2049.6" r="14.45" fill="#861f1d" fill-opacity="0.66" stroke="#861f1d" stroke-opacity="0.5" stroke-width="1"/>
<circle cx="698.1" cy="2139.8" r="14.45" fill="#861f1d" fill-opacity="0.66" stroke="#861f1d" stroke-opacity="0.5" stroke-width="1"/>
<circle cx="689.1" cy="2165.1" r="14.45" fill="#861f1d" fill-opacity="0.66" stroke="#861f1d" stroke-opacity="0.5" stroke-width="1"/>
<circle cx="689.1" cy="2324.5" r="14.45" fill="#861f1d" fill-opacity="0.66" stroke="#861f1d" stroke-opacity="0.5" stroke-width="1"/>
<path d="M471.1,1892.4V2071.6" stroke="#000" stroke-width="3.6" fill="none"/>
<path d="M459.3,1892.4H482.9M459.3,2071.6H482.9" stroke="#000" stroke-width="3.4" stroke-linecap="round" fill="none"/>
<path d="M543.5,2070.9V2315.8" stroke="#000" stroke-width="3.6" fill="none"/>
<path d="M531.7,2070.9H555.3M531.7,2315.8H555.3" stroke="#000" stroke-width="3.4" stroke-linecap="round" fill="none"/>
<path d="M616.5,2119.1V2349.2" stroke="#000" stroke-width="3.6" fill="none"/>
<path d="M604.7,2119.1H628.3M604.7,2349.2H628.3" stroke="#000" stroke-width="3.4" stroke-linecap="round" fill="none"/>
<path d="M689.1,1990.4V2210.4" stroke="#000" stroke-width="3.6" fill="none"/>
<path d="M677.3,1990.4H700.9M677.3,2210.4H700.9" stroke="#000" stroke-width="3.4" stroke-linecap="round" fill="none"/>
<path d="M471.1,1814.3V1770.4H600.8V1814.3" stroke="#000" stroke-width="3.7" stroke-linecap="round" stroke-linejoin="miter" fill="none"/>
<use href="#ast" x="525.95" y="1733.00"/>
<use href="#ast" x="548.05" y="1733.00"/>
<path d="M631.1,1814.3V1770.4H689.2V1814.3" stroke="#000" stroke-width="3.7" stroke-linecap="round" stroke-linejoin="miter" fill="none"/>
<use href="#ast" x="660.70" y="1733.00"/>
</g>
<g>
<rect x="1079.40" y="1723.00" width="7.2" height="647.82" fill="#000"/>
<rect x="1051.40" y="1723.00" width="28.5" height="7.2" fill="#000"/>
<text transform="translate(1039.7,1740.4) scale(0.965,1)" text-anchor="end" font-size="47" font-weight="700" stroke="#000" stroke-width="1">30</text>
<rect x="1051.40" y="1936.54" width="28.5" height="7.2" fill="#000"/>
<text transform="translate(1039.7,1954.0) scale(0.965,1)" text-anchor="end" font-size="47" font-weight="700" stroke="#000" stroke-width="1">20</text>
<rect x="1051.40" y="2150.08" width="28.5" height="7.2" fill="#000"/>
<text transform="translate(1039.7,2167.5) scale(0.965,1)" text-anchor="end" font-size="47" font-weight="700" stroke="#000" stroke-width="1">10</text>
<rect x="1051.40" y="2363.62" width="28.5" height="7.2" fill="#000"/>
<text transform="translate(1039.7,2381.1) scale(0.965,1)" text-anchor="end" font-size="47" font-weight="700" stroke="#000" stroke-width="1">0</text>
<rect x="1064.90" y="1829.77" width="15" height="7.2" fill="#000"/>
<rect x="1064.90" y="2043.31" width="15" height="7.2" fill="#000"/>
<rect x="1064.90" y="2256.85" width="15" height="7.2" fill="#000"/>
<text transform="translate(958.3,2052.0) rotate(-90)" text-anchor="middle" font-size="50.8" font-weight="700" stroke="#000" stroke-width="1" textLength="593.4" lengthAdjust="spacingAndGlyphs">Platelet Count (rel. to Hb)</text>
<rect x="1211.38" y="1993.92" width="44.85" height="372.05" fill="none" stroke="#000" stroke-width="3.65"/>
<rect x="1283.88" y="2060.12" width="44.85" height="305.85" fill="none" stroke="#000" stroke-width="3.65"/>
<rect x="1356.58" y="2204.82" width="44.85" height="161.15" fill="none" stroke="#000" stroke-width="3.65"/>
<rect x="1429.08" y="2026.92" width="44.85" height="339.05" fill="none" stroke="#000" stroke-width="3.65"/>
<circle cx="1233.8" cy="1927.8" r="14.45" fill="#494949" fill-opacity="0.66" stroke="#494949" stroke-opacity="0.5" stroke-width="1"/>
<circle cx="1224.4" cy="1945.7" r="14.45" fill="#494949" fill-opacity="0.66" stroke="#494949" stroke-opacity="0.5" stroke-width="1"/>
<circle cx="1243.2" cy="1962.3" r="14.45" fill="#494949" fill-opacity="0.66" stroke="#494949" stroke-opacity="0.5" stroke-width="1"/>
<circle cx="1233.8" cy="1969.0" r="14.45" fill="#494949" fill-opacity="0.66" stroke="#494949" stroke-opacity="0.5" stroke-width="1"/>
<circle cx="1224.4" cy="1994.4" r="14.45" fill="#494949" fill-opacity="0.66" stroke="#494949" stroke-opacity="0.5" stroke-width="1"/>
<circle cx="1243.2" cy="2017.5" r="14.45" fill="#494949" fill-opacity="0.66" stroke="#494949" stroke-opacity="0.5" stroke-width="1"/>
<circle cx="1233.8" cy="2037.7" r="14.45" fill="#494949" fill-opacity="0.66" stroke="#494949" stroke-opacity="0.5" stroke-width="1"/>
<circle cx="1233.8" cy="2080.0" r="14.45" fill="#494949" fill-opacity="0.66" stroke="#494949" stroke-opacity="0.5" stroke-width="1"/>
<circle cx="1306.3" cy="1956.7" r="14.45" fill="#861f1d" fill-opacity="0.66" stroke="#861f1d" stroke-opacity="0.5" stroke-width="1"/>
<circle cx="1296.6" cy="2035.9" r="14.45" fill="#861f1d" fill-opacity="0.66" stroke="#861f1d" stroke-opacity="0.5" stroke-width="1"/>
<circle cx="1315.7" cy="2030.7" r="14.45" fill="#861f1d" fill-opacity="0.66" stroke="#861f1d" stroke-opacity="0.5" stroke-width="1"/>
<circle cx="1296.6" cy="2045.5" r="14.45" fill="#861f1d" fill-opacity="0.66" stroke="#861f1d" stroke-opacity="0.5" stroke-width="1"/>
<circle cx="1315.7" cy="2045.3" r="14.45" fill="#861f1d" fill-opacity="0.66" stroke="#861f1d" stroke-opacity="0.5" stroke-width="1"/>
<circle cx="1315.2" cy="2076.7" r="14.45" fill="#861f1d" fill-opacity="0.66" stroke="#861f1d" stroke-opacity="0.5" stroke-width="1"/>
<circle cx="1296.8" cy="2087.4" r="14.45" fill="#861f1d" fill-opacity="0.66" stroke="#861f1d" stroke-opacity="0.5" stroke-width="1"/>
<circle cx="1306.3" cy="2187.3" r="14.45" fill="#861f1d" fill-opacity="0.66" stroke="#861f1d" stroke-opacity="0.5" stroke-width="1"/>
<circle cx="1378.9" cy="2119.8" r="14.45" fill="#861f1d" fill-opacity="0.66" stroke="#861f1d" stroke-opacity="0.5" stroke-width="1"/>
<circle cx="1374.0" cy="2163.7" r="14.45" fill="#861f1d" fill-opacity="0.66" stroke="#861f1d" stroke-opacity="0.5" stroke-width="1"/>
<circle cx="1383.4" cy="2167.1" r="14.45" fill="#861f1d" fill-opacity="0.66" stroke="#861f1d" stroke-opacity="0.5" stroke-width="1"/>
<circle cx="1369.5" cy="2214.2" r="14.45" fill="#861f1d" fill-opacity="0.66" stroke="#861f1d" stroke-opacity="0.5" stroke-width="1"/>
<circle cx="1388.6" cy="2220.2" r="14.45" fill="#861f1d" fill-opacity="0.66" stroke="#861f1d" stroke-opacity="0.5" stroke-width="1"/>
<circle cx="1378.9" cy="2238.4" r="14.45" fill="#861f1d" fill-opacity="0.66" stroke="#861f1d" stroke-opacity="0.5" stroke-width="1"/>
<circle cx="1378.9" cy="2297.2" r="14.45" fill="#861f1d" fill-opacity="0.66" stroke="#861f1d" stroke-opacity="0.5" stroke-width="1"/>
<circle cx="1441.9" cy="1937.2" r="14.45" fill="#861f1d" fill-opacity="0.66" stroke="#861f1d" stroke-opacity="0.5" stroke-width="1"/>
<circle cx="1460.8" cy="1955.1" r="14.45" fill="#861f1d" fill-opacity="0.66" stroke="#861f1d" stroke-opacity="0.5" stroke-width="1"/>
<circle cx="1451.4" cy="1967.0" r="14.45" fill="#861f1d" fill-opacity="0.66" stroke="#861f1d" stroke-opacity="0.5" stroke-width="1"/>
<circle cx="1451.4" cy="2027.3" r="14.45" fill="#861f1d" fill-opacity="0.66" stroke="#861f1d" stroke-opacity="0.5" stroke-width="1"/>
<circle cx="1455.8" cy="2059.4" r="14.45" fill="#861f1d" fill-opacity="0.66" stroke="#861f1d" stroke-opacity="0.5" stroke-width="1"/>
<circle cx="1446.4" cy="2063.9" r="14.45" fill="#861f1d" fill-opacity="0.66" stroke="#861f1d" stroke-opacity="0.5" stroke-width="1"/>
<circle cx="1446.4" cy="2094.2" r="14.45" fill="#861f1d" fill-opacity="0.66" stroke="#861f1d" stroke-opacity="0.5" stroke-width="1"/>
<circle cx="1455.8" cy="2094.2" r="14.45" fill="#861f1d" fill-opacity="0.66" stroke="#861f1d" stroke-opacity="0.5" stroke-width="1"/>
<path d="M1233.8,1949.1V2034.3" stroke="#000" stroke-width="3.6" fill="none"/>
<path d="M1222.0,1949.1H1245.6M1222.0,2034.3H1245.6" stroke="#000" stroke-width="3.4" stroke-linecap="round" fill="none"/>
<path d="M1306.3,2003.8V2113.2" stroke="#000" stroke-width="3.6" fill="none"/>
<path d="M1294.5,2003.8H1318.1M1294.5,2113.2H1318.1" stroke="#000" stroke-width="3.4" stroke-linecap="round" fill="none"/>
<path d="M1378.9,2148.7V2256.8" stroke="#000" stroke-width="3.6" fill="none"/>
<path d="M1367.1,2148.7H1390.7M1367.1,2256.8H1390.7" stroke="#000" stroke-width="3.4" stroke-linecap="round" fill="none"/>
<path d="M1451.4,1971.9V2077.8" stroke="#000" stroke-width="3.6" fill="none"/>
<path d="M1439.6,1971.9H1463.2M1439.6,2077.8H1463.2" stroke="#000" stroke-width="3.4" stroke-linecap="round" fill="none"/>
<path d="M1233.8,1763.0V1719.4H1363.4V1763.0" stroke="#000" stroke-width="3.7" stroke-linecap="round" stroke-linejoin="miter" fill="none"/>
<use href="#ast" x="1276.80" y="1682.10"/>
<use href="#ast" x="1298.90" y="1682.10"/>
<use href="#ast" x="1321.00" y="1682.10"/>
<path d="M1393.9,1763.0V1719.4H1451.4V1763.0" stroke="#000" stroke-width="3.7" stroke-linecap="round" stroke-linejoin="miter" fill="none"/>
<use href="#ast" x="1400.90" y="1682.10"/>
<use href="#ast" x="1423.00" y="1682.10"/>
<use href="#ast" x="1445.10" y="1682.10"/>
<path d="M1233.8,1883.7V1839.7H1291.6V1883.7" stroke="#000" stroke-width="3.7" stroke-linecap="round" stroke-linejoin="miter" fill="none"/>
<use href="#ast" x="1262.60" y="1803.20"/>
<path d="M1321.1,1883.7V1839.7H1363.9V1883.7" stroke="#000" stroke-width="3.7" stroke-linecap="round" stroke-linejoin="miter" fill="none"/>
<use href="#ast" x="1343.30" y="1803.20"/>
</g>
<rect x="422.5" y="2466.7" width="315.29999999999995" height="8" fill="#000"/>
<text transform="translate(480.4,2507.5) rotate(-45)" text-anchor="end" font-size="46" font-weight="700" stroke="#000" stroke-width="1">CTRL</text>
<text transform="translate(553,2507.5) rotate(-45)" text-anchor="end" font-size="46" font-weight="700" stroke="#000" stroke-width="1">Hypothermia</text>
<text transform="translate(625.5,2507.5) rotate(-45)" text-anchor="end" font-size="46" font-weight="700" stroke="#000" stroke-width="1">Acidosis °II</text>
<text transform="translate(698,2507.5) rotate(-45)" text-anchor="end" font-size="46" font-weight="700" stroke="#000" stroke-width="1">Dilution</text>
<rect x="1185.0" y="2466.7" width="315.29999999999995" height="8" fill="#000"/>
<text transform="translate(1243,2507.5) rotate(-45)" text-anchor="end" font-size="46" font-weight="700" stroke="#000" stroke-width="1">CTRL</text>
<text transform="translate(1315.5,2507.5) rotate(-45)" text-anchor="end" font-size="46" font-weight="700" stroke="#000" stroke-width="1">Hypothermia</text>
<text transform="translate(1388,2507.5) rotate(-45)" text-anchor="end" font-size="46" font-weight="700" stroke="#000" stroke-width="1">Acidosis °II</text>
<text transform="translate(1460.6,2507.5) rotate(-45)" text-anchor="end" font-size="46" font-weight="700" stroke="#000" stroke-width="1">Dilution</text>
</svg>
</body></html>
